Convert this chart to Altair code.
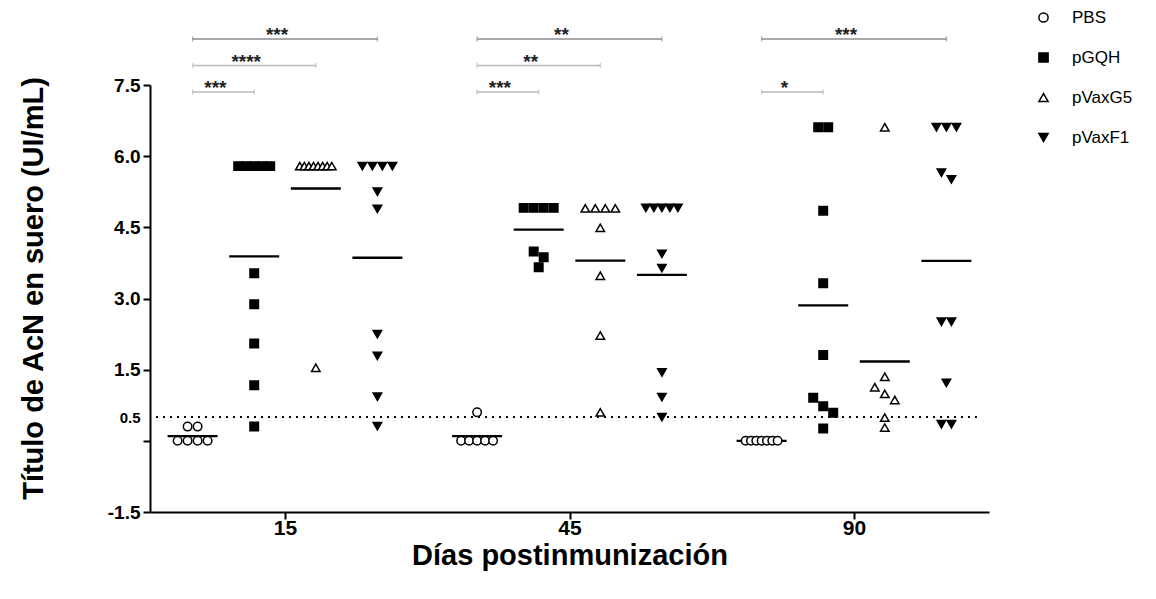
import json
import altair as alt
import pandas as pd

# ---------------- data ----------------
days = ["15", "45", "90"]
groups = ["PBS", "pGQH", "pVaxG5", "pVaxF1"]

PBS_15 = [0.30, 0.30, 0.00, 0.00, 0.00, 0.00]
pGQH_15 = [5.79, 5.79, 5.79, 5.79, 5.79, 3.53, 2.88, 2.05, 1.17, 0.30]
pVaxG5_15 = [5.79, 5.79, 5.79, 5.79, 5.79, 5.79, 5.79, 5.79, 1.54]
pVaxF1_15 = [5.79, 5.79, 5.79, 5.79, 5.25, 4.89, 2.25, 1.79, 0.93, 0.31]

PBS_45 = [0.60, 0.00, 0.00, 0.00, 0.00, 0.00]
pGQH_45 = [4.91, 4.91, 4.91, 4.91, 3.99, 3.87, 3.66]
pVaxG5_45 = [4.90, 4.90, 4.90, 4.90, 4.49, 3.48, 2.22, 0.60]
pVaxF1_45 = [4.91, 4.91, 4.91, 4.91, 4.91, 3.94, 3.64, 1.44, 0.92, 0.50]

PBS_90 = [0.00, 0.00, 0.00, 0.00, 0.00, 0.00, 0.00]
pGQH_90 = [6.61, 6.61, 4.85, 3.32, 1.81, 0.91, 0.73, 0.59, 0.26]
pVaxG5_90 = [6.61, 1.35, 1.13, 0.99, 0.86, 0.49, 0.28]
pVaxF1_90 = [6.61, 6.61, 6.61, 5.65, 5.51, 2.51, 2.51, 1.22, 0.35, 0.35]

series = {
    ("15", "PBS"): PBS_15, ("15", "pGQH"): pGQH_15,
    ("15", "pVaxG5"): pVaxG5_15, ("15", "pVaxF1"): pVaxF1_15,
    ("45", "PBS"): PBS_45, ("45", "pGQH"): pGQH_45,
    ("45", "pVaxG5"): pVaxG5_45, ("45", "pVaxF1"): pVaxF1_45,
    ("90", "PBS"): PBS_90, ("90", "pGQH"): pGQH_90,
    ("90", "pVaxG5"): pVaxG5_90, ("90", "pVaxF1"): pVaxF1_90,
}

# significance brackets: day, from group, to group, label, level
sig_day = ["15", "15", "15", "45", "45", "45", "90", "90"]
sig_from = ["PBS", "PBS", "PBS", "PBS", "PBS", "PBS", "PBS", "PBS"]
sig_to = ["pGQH", "pVaxG5", "pVaxF1", "pGQH", "pVaxG5", "pVaxF1", "pGQH", "pVaxF1"]
sig_label = ["***", "****", "***", "***", "**", "**", "*", "***"]
sig_level = [0, 1, 2, 0, 1, 2, 0, 2]

y_ticks = [-1.5, 0, 0.5, 1.5, 3.0, 4.5, 6.0, 7.5]
threshold = 0.5

# ---------------- layout helpers ----------------
W, H = 839, 427
FIRST_CENTER = 135.0
DAY_GAP = 284.5
SUB_GAP = 61.6
MEAN_HALF = 25
FONT = "Liberation Sans"


def center(day, grp):
    return FIRST_CENTER + days.index(day) * DAY_GAP + (groups.index(grp) - 1.5) * SUB_GAP


rows, means = [], []
for (day, grp), vals in series.items():
    c = center(day, grp)
    sv = sorted(vals, reverse=True)
    clusters, cur = [], [sv[0]]
    for v in sv[1:]:
        if cur[-1] - v < 0.2:
            cur.append(v)
        else:
            clusters.append(cur)
            cur = [v]
    clusters.append(cur)
    for cl in clusters:
        n = len(cl)
        sp = 10.0 if n < 2 else min(10.0, 32.0 / (n - 1))
        for i, v in enumerate(cl):
            rows.append({"day": day, "group": grp, "value": v,
                         "xpos": c + (i - (n - 1) / 2) * sp})
    m = sum(vals) / len(vals)
    means.append({"day": day, "group": grp, "mean": m,
                  "x1": c - MEAN_HALF, "x2": c + MEAN_HALF})

df = pd.DataFrame(rows)
mdf = pd.DataFrame(means)

lvl_y = [7.35, 7.91, 8.47]
sdf = pd.DataFrame({
    "day": sig_day, "g1": sig_from, "g2": sig_to, "label": sig_label, "level": sig_level,
})
sdf["x1"] = [center(d, g) for d, g in zip(sdf.day, sdf.g1)]
sdf["x2"] = [center(d, g) for d, g in zip(sdf.day, sdf.g2)]
sdf["y"] = [lvl_y[l] for l in sdf.level]
sdf["xm"] = (sdf.x1 + sdf.x2) / 2 - 8
sdf["col"] = ["top" if l == 2 else "low" for l in sdf.level]
caps = pd.concat([
    sdf[["x1", "y", "col"]].rename(columns={"x1": "x"}),
    sdf[["x2", "y", "col"]].rename(columns={"x2": "x"}),
])

# ---------------- scales / axes ----------------
tick_vals = [FIRST_CENTER + i * DAY_GAP for i in range(len(days))]
label_expr = (f"{json.dumps(days)}[round((datum.value - {FIRST_CENTER}) / {DAY_GAP})]")

x_scale = alt.Scale(domain=[0, W], nice=False, zero=False)
y_scale = alt.Scale(domain=[-1.5, 7.5], nice=False, zero=False)

x_axis = alt.Axis(
    values=tick_vals, labelExpr=label_expr, title="Días postinmunización",
    grid=False, domainColor="black", domainWidth=2, tickColor="black", tickWidth=2,
    tickSize=7, labelFont=FONT, labelFontSize=21, labelFontWeight="bold",
    labelColor="black", labelPadding=-2, titleFont=FONT, titleFontSize=29,
    titleFontWeight="bold", titleColor="black", titlePadding=3,
)
y_axis = alt.Axis(
    values=y_ticks,
    labelExpr="datum.value == 0 ? '' : replace(format(datum.value, '.1f'), '\u2212', '-')",
    title="Título de AcN en suero (UI/mL)",
    grid=False, domainColor="black", domainWidth=2, tickColor="black", tickWidth=2,
    tickSize=7,
    tickOpacity=alt.condition("datum.value == 0.5", alt.value(0), alt.value(1)),
    labelFontSize=alt.condition("datum.value == 0.5", alt.value(15), alt.value(19)),
    labelFont=FONT, labelFontWeight="bold", labelColor="black", labelPadding=3,
    titleFont=FONT, titleFontSize=29, titleFontWeight="bold", titleColor="black",
    titleX=-102, titleY=203,
)

legend = alt.Legend(
    title=None, orient="none", legendX=885, legendY=-76,
    labelFont=FONT, labelFontSize=17, labelColor="black",
    symbolSize=85, symbolStrokeColor="black", symbolStrokeWidth=1.5,
    rowPadding=22, labelOffset=20,
)

base = alt.Chart(df)

points = base.mark_point(filled=True, size=72, strokeWidth=1.5, opacity=1).encode(
    x=alt.X("xpos:Q", scale=x_scale, axis=x_axis),
    y=alt.Y("value:Q", scale=y_scale, axis=y_axis),
    shape=alt.Shape("group:N", scale=alt.Scale(
        domain=groups, range=["circle", "square", "triangle-up", "triangle-down"]),
        legend=legend),
    fill=alt.Fill("group:N", scale=alt.Scale(
        domain=groups, range=["white", "black", "white", "black"]), legend=legend),
    stroke=alt.Stroke("group:N", scale=alt.Scale(
        domain=groups, range=["black", "black", "black", "black"]), legend=legend),
)

mean_rules = alt.Chart(mdf).mark_rule(color="black", strokeWidth=2.4).encode(
    x=alt.X("x1:Q", scale=x_scale), x2="x2:Q",
    y=alt.Y("mean:Q", scale=y_scale),
)

dotted = alt.Chart(pd.DataFrame({"t": [threshold]})).mark_rule(
    color="black", strokeWidth=2, strokeDash=[2, 5]).encode(
    y=alt.Y("t:Q", scale=y_scale), x=alt.value(6), x2=alt.value(W - 8),
)

col_scale = alt.Scale(domain=["top", "low"], range=["#8c8c8c", "#b9b9b9"])
br_lines = alt.Chart(sdf).mark_rule(strokeWidth=1.5).encode(
    x=alt.X("x1:Q", scale=x_scale), x2="x2:Q", y=alt.Y("y:Q", scale=y_scale),
    color=alt.Color("col:N", scale=col_scale, legend=None),
)
br_caps = alt.Chart(caps).mark_tick(orient="vertical", size=5, thickness=1.4).encode(
    x=alt.X("x:Q", scale=x_scale), y=alt.Y("y:Q", scale=y_scale),
    color=alt.Color("col:N", scale=col_scale, legend=None),
)
br_text = alt.Chart(sdf).mark_text(font=FONT, fontSize=19, fontWeight="bold",
                                   color="#222222", baseline="alphabetic", dy=2).encode(
    x=alt.X("xm:Q", scale=x_scale), y=alt.Y("y:Q", scale=y_scale), text="label:N",
)

chart = alt.layer(dotted, mean_rules, points, br_lines, br_caps, br_text).resolve_scale(
    color="independent"
).properties(
    width=W, height=H, background="white",
    autosize=alt.AutoSizeParams(type="none"),
    padding={"left": 142, "top": 77, "right": 159, "bottom": 79},
).configure_view(stroke=None)

chart.save("out.html", embed_options={"renderer": "svg", "actions": False})
